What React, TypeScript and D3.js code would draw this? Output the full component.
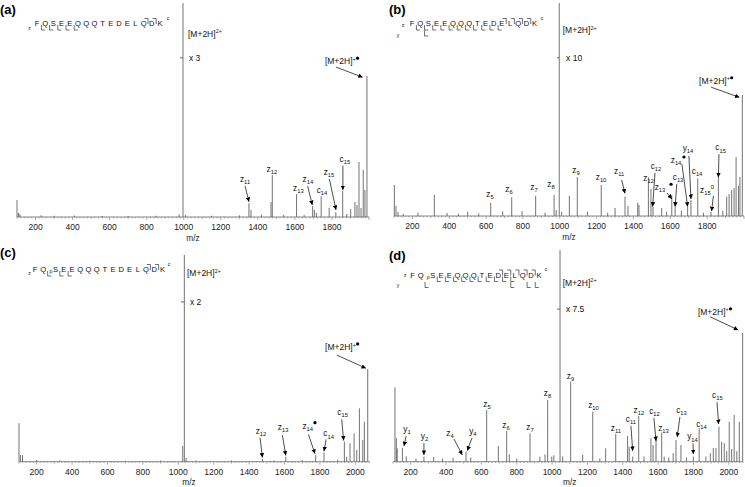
import React from 'react';
import * as d3 from 'd3';

type Peak = [number, number];
type Ann = { t: string; n: string; sup?: string; dot?: [number, number]; at: [number, number]; arrow?: [number, number, number, number] };
type Prec = { m2: [number, number]; mag: string; magAt: [number, number]; tick: [number, number, number]; rad: [number, number]; radArrow: [number, number, number, number] };

// ---------- data ----------
const residues = ['F', 'Q', 'S', 'E', 'E', 'Q', 'Q', 'Q', 'T', 'E', 'D', 'E', 'L', 'Q', 'D', 'K'];

const ticksAB = [200, 400, 600, 800, 1000, 1200, 1400, 1600, 1800];
const ticksCD = [200, 400, 600, 800, 1000, 1200, 1400, 1600, 1800, 2000];

const peaksA: Peak[] = [
  [100, 7.9], [108, 1.9], [116, 1.4], [230, 0.8], [300, 0.6], [410, 0.7], [560, 0.5], [700, 0.5], [850, 0.6], [975, 1.2],
  [996, 100], [1010, 1.0], [1150, 0.6], [1300, 0.8], [1352, 6.5], [1363, 3.3], [1420, 1.0], [1471, 7.0], [1478, 19.6],
  [1540, 1.0], [1609, 10.7], [1650, 1.0], [1696, 5.1], [1705, 3.3], [1716, 1.9], [1742, 9.8], [1785, 4.3], [1821, 2.3],
  [1858, 12.3], [1880, 1.5], [1901, 3.7], [1924, 7.0], [1935, 5.6], [1946, 25.7], [1957, 4.2], [1969, 22.0], [1978, 12.6],
  [1989, 65.9],
];
const labelsA: Ann[] = [
  { t: 'z', n: '11', at: [1331, 16.4], arrow: [1331, 14.5, 1352, 7.1] },
  { t: 'z', n: '12', at: [1476, 21.0] },
  { t: 'z', n: '13', at: [1619, 12.1] },
  { t: 'z', n: '14', at: [1670, 16.4], arrow: [1669, 14.4, 1694, 5.6] },
  { t: 'c', n: '14', at: [1746, 11.2] },
  { t: 'z', n: '15', at: [1784, 19.6], arrow: [1786, 17.8, 1822, 3.3] },
  { t: 'c', n: '15', at: [1870, 25.7], arrow: [1859, 24.0, 1859, 12.6] },
];
const precA: Prec = { m2: [1023, 84.3], mag: 'x 3', magAt: [1028, 72.9], tick: [980, 996, 74.4], rad: [1762, 71.3], radArrow: [1821, 70.1, 1966, 65.3] };

const peaksB: Peak[] = [
  [102, 14.6], [111, 4.7], [122, 1.9], [150, 1.0], [230, 1.5], [319, 9.9], [388, 1.4], [450, 1.0], [500, 2.0], [560, 1.2],
  [625, 6.2], [690, 2.2], [739, 8.8], [795, 2.3], [869, 9.5], [920, 1.5], [969, 9.9], [980, 2.8], [997, 100], [1010, 2.0],
  [1052, 9.5], [1095, 18.3], [1150, 2.0], [1225, 14.6], [1260, 1.5], [1300, 3.8], [1354, 9.1], [1370, 4.7], [1423, 6.2],
  [1430, 5.2], [1481, 18.2], [1495, 12.7], [1506, 4.2], [1553, 3.8], [1580, 2.0], [1608, 9.9], [1626, 4.2], [1660, 2.5],
  [1694, 4.2], [1712, 7.5], [1749, 17.7], [1780, 1.5], [1821, 1.9], [1861, 19.2], [1885, 2.5], [1906, 9.1], [1919, 10.3],
  [1933, 12.2], [1946, 13.1], [1957, 27.7], [1970, 14.1], [1978, 18.3], [1991, 56.8],
];
const labelsB: Ann[] = [
  { t: 'z', n: '5', at: [621, 8.9] },
  { t: 'z', n: '6', at: [724, 11.3] },
  { t: 'z', n: '7', at: [860, 12.2] },
  { t: 'z', n: '8', at: [952, 13.6] },
  { t: 'z', n: '9', at: [1088, 20.2] },
  { t: 'z', n: '10', at: [1224, 16.9] },
  { t: 'z', n: '11', at: [1322, 19.7], arrow: [1336, 16.9, 1354, 10.6] },
  { t: 'z', n: '12', at: [1482, 16.4] },
  { t: 'c', n: '12', at: [1522, 22.1], arrow: [1517, 20.3, 1504, 4.4] },
  { t: 'z', n: '13', dot: [1604, 14.9], at: [1544, 12.2], arrow: [1582, 10.8, 1609, 8.0] },
  { t: 'c', n: '13', at: [1642, 16.9], arrow: [1635, 15.0, 1626, 4.4] },
  { t: 'z', n: '14', dot: [1674, 27.7], at: [1631, 24.9], arrow: [1663, 24.4, 1694, 4.4] },
  { t: 'y', n: '14', at: [1696, 30.5], arrow: [1701, 28.2, 1712, 8.0] },
  { t: 'c', n: '14', at: [1745, 19.7] },
  { t: 'z', n: '15', sup: '0', at: [1799, 10.8], arrow: [1834, 9.4, 1824, 2.3] },
  { t: 'c', n: '15', at: [1873, 30.8], arrow: [1864, 29.0, 1861, 18.2] },
];
const precB: Prec = { m2: [1016, 85.9], mag: 'x 10', magAt: [1034, 72.8], tick: [985, 997, 74.3], rad: [1756, 62.0], radArrow: [1821, 60.5, 1975, 55.7] };

const peaksC: Peak[] = [
  [100, 18.6], [108, 3.2], [120, 3.2], [200, 0.8], [330, 0.6], [500, 0.5], [700, 0.5], [900, 0.6], [1025, 7.6], [1034, 100],
  [1044, 1.8], [1100, 0.6], [1300, 0.6], [1475, 1.3], [1540, 0.6], [1607, 2.4], [1700, 0.8], [1776, 3.2], [1823, 4.5],
  [1900, 1.0], [1938, 9.7], [1951, 2.4], [1970, 8.9], [1993, 13.7], [2008, 5.7], [2023, 25.8], [2042, 10.5], [2051, 19.4],
  [2070, 44.8],
];
const labelsC: Ann[] = [
  { t: 'z', n: '12', at: [1467, 13.4], arrow: [1462, 11.5, 1475, 2.0] },
  { t: 'z', n: '13', at: [1592, 15.3], arrow: [1588, 12.9, 1607, 3.0] },
  { t: 'z', n: '14', dot: [1772, 18.9], at: [1731, 15.8], arrow: [1735, 13.2, 1772, 3.8] },
  { t: 'c', n: '14', at: [1849, 12.2], arrow: [1835, 10.8, 1823, 5.0] },
  { t: 'c', n: '15', at: [1928, 22.5], arrow: [1923, 20.5, 1934, 10.2] },
];
const precC: Prec = { m2: [1049, 89.6], mag: 'x 2', magAt: [1066, 75.6], tick: [1015, 1034, 77.3], rad: [1829, 54.0], radArrow: [1895, 51.6, 2060, 45.2] };

const peaksD: Peak[] = [
  [111, 35.1], [119, 11.1], [124, 6.3], [153, 6.6], [175, 2.5], [230, 1.5], [275, 2.4], [330, 2.2], [380, 1.5], [440, 1.8],
  [513, 4.7], [540, 2.0], [630, 24.4], [696, 7.4], [743, 14.5], [758, 3.5], [800, 1.5], [875, 13.4], [931, 2.4], [960, 3.5],
  [975, 29.1], [998, 2.4], [1010, 3.0], [1045, 100], [1060, 2.5], [1105, 37.8], [1173, 3.2], [1230, 23.6], [1270, 1.5],
  [1303, 6.3], [1360, 13.1], [1427, 12.1], [1436, 7.1], [1456, 2.4], [1490, 21.6], [1520, 2.5], [1559, 11.1], [1571, 7.9],
  [1588, 10.3], [1620, 13.7], [1634, 2.4], [1660, 2.0], [1685, 4.0], [1701, 10.3], [1729, 7.9], [1760, 2.0], [1799, 2.4],
  [1832, 15.8], [1870, 2.5], [1895, 4.0], [1912, 6.5], [1927, 6.5], [1944, 16.5], [1959, 9.4], [1974, 8.8], [1988, 5.0],
  [2002, 18.9], [2016, 6.0], [2030, 22.1], [2045, 5.0], [2059, 18.9], [2078, 60.7],
];
const labelsD: Ann[] = [
  { t: 'y', n: '1', at: [179, 14.0], arrow: [174, 12.1, 162, 7.4] },
  { t: 'y', n: '2', at: [278, 10.7], arrow: [275, 8.8, 275, 3.2] },
  { t: 'z', n: '4', at: [422, 12.1], arrow: [445, 10.7, 492, 3.2] },
  { t: 'y', n: '4', at: [552, 13.1], arrow: [547, 11.2, 520, 5.2] },
  { t: 'z', n: '5', at: [632, 25.8] },
  { t: 'z', n: '6', at: [739, 15.9] },
  { t: 'z', n: '7', at: [875, 15.0] },
  { t: 'z', n: '8', at: [974, 31.0] },
  { t: 'z', n: '9', at: [1104, 39.1] },
  { t: 'z', n: '10', at: [1234, 25.4] },
  { t: 'z', n: '11', at: [1361, 14.5] },
  { t: 'c', n: '11', at: [1446, 18.8], arrow: [1446, 16.9, 1456, 5.1] },
  { t: 'z', n: '12', at: [1491, 23.0] },
  { t: 'c', n: '12', at: [1579, 22.5], arrow: [1576, 20.6, 1588, 9.8] },
  { t: 'z', n: '13', at: [1630, 14.5] },
  { t: 'c', n: '13', at: [1732, 23.0], arrow: [1723, 21.1, 1708, 11.7] },
  { t: 'y', n: '14', at: [1794, 10.5], arrow: [1797, 8.6, 1799, 3.6] },
  { t: 'c', n: '14', at: [1845, 16.6] },
  { t: 'c', n: '15', at: [1935, 30.1], arrow: [1933, 28.2, 1942, 17.8] },
];
const precD: Prec = { m2: [1060, 83.0], mag: 'x 7.5', magAt: [1078, 70.5], tick: [1028, 1045, 72.1], rad: [1825, 69.3], radArrow: [1893, 68.5, 2053, 62.2] };

// cleavage sites (index of residue after which the bond is cleaved)
const zSitesA = [0, 1, 2, 3, 4];
const cSitesA = [13, 14];
const zSitesB = [0, 1, 2, 3, 4, 5, 6, 7, 8, 9, 10];
const ySitesB = [1];
const cSitesB = [11, 12, 13, 14];
const zSitesC = [1, 2, 3];
const cSitesC = [13, 14];
const zSitesD = [2, 3, 4, 5, 6, 7, 8, 9, 10, 11];
const ySitesD = [1, 11, 13, 14];
const cSitesD = [10, 11, 12, 13, 14];

// ---------- drawing ----------
const FONT = "'Liberation Sans', Arial, Helvetica, sans-serif";
const PEAK = '#5a5a5a';

type PepCfg = {
  x0: number; y0: number; s: number; phos?: number;
  z: number[]; c: number[]; y: number[];
  tags: { t: string; x: number; y: number }[];
};

function Peptide({ cfg }: { cfg: PepCfg }) {
  const ph = cfg.phos;
  const xs = residues.map((_, i) => cfg.x0 + i * cfg.s + (ph !== undefined && i >= ph ? 4 : 0));
  const bd = (i: number) => (xs[i] + xs[i + 1] - (ph !== undefined && i + 1 === ph ? 4 : 0)) / 2 + 0.3;
  const y0 = cfg.y0;
  return (
    <g fontFamily={FONT}>
      {residues.map((r, i) => (
        <text key={i} x={xs[i]} y={y0} fontSize={7.6} textAnchor="middle" fill="#111">{r}</text>
      ))}
      {ph !== undefined && (
        <text x={xs[ph] - 4.6} y={y0 + 1} fontSize={5.2} textAnchor="middle" fill="#111">p</text>
      )}
      {cfg.z.map((i) => (
        <path key={'z' + i} d={`M${bd(i)},${y0 - 1}V${y0 + 4}H${bd(i) + 3.6}`} fill="none" stroke="#222" strokeWidth={0.65} />
      ))}
      {cfg.y.map((i) => (
        <path key={'y' + i} d={`M${bd(i)},${y0 + 4.5}V${y0 + 10}H${bd(i) + 3.6}`} fill="none" stroke="#222" strokeWidth={0.65} />
      ))}
      {cfg.c.map((i) => (
        <path key={'c' + i} d={`M${bd(i) - 3.6},${y0 - 7.5}H${bd(i)}V${y0 - 2}`} fill="none" stroke="#222" strokeWidth={0.65} />
      ))}
      {cfg.tags.map((t, k) => (
        <text key={'t' + k} x={t.x} y={t.y} fontSize={5.2} textAnchor="middle" fill="#111">{t.t}</text>
      ))}
    </g>
  );
}

type PanelCfg = {
  letter: string; letterAt: [number, number];
  domain: [number, number]; xr: [number, number]; base: number; top: number;
  ticks: number[]; mzLabel: number;
  peaks: Peak[]; labels: Ann[]; prec: Prec; pep: PepCfg;
};

function Panel({ p }: { p: PanelCfg }) {
  const x = d3.scaleLinear().domain(p.domain).range(p.xr);
  const y = d3.scaleLinear().domain([0, 100]).range([p.base, p.top]);
  const minor = d3.range(p.domain[0], p.domain[1] + 0.1, 20);
  const pr = p.prec;
  return (
    <g fontFamily={FONT}>
      <text x={p.letterAt[0]} y={p.letterAt[1]} fontSize={13} fontWeight="bold" fill="#000">{p.letter}</text>
      <Peptide cfg={p.pep} />
      {/* peaks */}
      {p.peaks.map(([m, v], k) => (
        <line key={k} x1={x(m)} x2={x(m)} y1={y(0)} y2={y(v)} stroke={PEAK} strokeWidth={0.85} />
      ))}
      {/* axis */}
      <line x1={p.xr[0]} x2={p.xr[1]} y1={p.base} y2={p.base} stroke="#666" strokeWidth={0.8} />
      {minor.map((m, k) => (
        <line key={'m' + k} x1={x(m)} x2={x(m)} y1={p.base} y2={p.base + (m % 200 === 0 ? 3 : m % 100 === 0 ? 2 : 1.3)} stroke="#777" strokeWidth={0.6} />
      ))}
      {p.ticks.map((t) => (
        <text key={'t' + t} x={x(t)} y={p.base + 13} fontSize={8.5} textAnchor="middle" fill="#222">{t}</text>
      ))}
      <text x={x(p.mzLabel)} y={p.base + 23.5} fontSize={8.3} textAnchor="middle" fill="#222">m/z</text>
      {/* precursor annotations */}
      <text x={x(pr.m2[0])} y={y(pr.m2[1])} fontSize={8.5} fill="#111">[M+2H]<tspan dy={-3.5} fontSize={5.5}>2+</tspan></text>
      <line x1={x(pr.tick[0])} x2={x(pr.tick[1])} y1={y(pr.tick[2])} y2={y(pr.tick[2])} stroke="#444" strokeWidth={0.8} />
      <text x={x(pr.magAt[0])} y={y(pr.magAt[1])} fontSize={8.5} fill="#111">{pr.mag}</text>
      <text x={x(pr.rad[0])} y={y(pr.rad[1])} fontSize={8.5} fill="#111">[M+2H]<tspan dy={-3.5} fontSize={5.5}>+</tspan></text>
      <circle cx={x(pr.rad[0]) + 32.6} cy={y(pr.rad[1]) - 6.2} r={1.6} fill="#000" />
      <line x1={x(pr.radArrow[0])} y1={y(pr.radArrow[1])} x2={x(pr.radArrow[2])} y2={y(pr.radArrow[3])} stroke="#111" strokeWidth={0.75} markerEnd="url(#ah)" />
      {/* fragment labels */}
      {p.labels.map((a, k) => (
        <g key={'a' + k}>
          <text x={x(a.at[0])} y={y(a.at[1])} fontSize={8.3} textAnchor="middle" fill="#111">
            {a.t}<tspan dy={2.2} fontSize={5.8}>{a.n}</tspan>
            {a.sup && <tspan dy={-6} fontSize={5.8}>{a.sup}</tspan>}
          </text>
          {a.dot && <circle cx={x(a.dot[0])} cy={y(a.dot[1])} r={1.6} fill="#000" />}
          {a.arrow && (
            <line x1={x(a.arrow[0])} y1={y(a.arrow[1])} x2={x(a.arrow[2])} y2={y(a.arrow[3])} stroke="#111" strokeWidth={0.75} markerEnd="url(#ah)" />
          )}
        </g>
      ))}
    </g>
  );
}

const panels: PanelCfg[] = [
  {
    letter: '(a)', letterAt: [0, 14], domain: [100, 2000], xr: [17, 369], base: 217, top: 3, ticks: ticksAB, mzLabel: 1050,
    peaks: peaksA, labels: labelsA, prec: precA,
    pep: { x0: 37, y0: 26, s: 8.2, z: zSitesA, c: cSitesA, y: [], tags: [{ t: 'z', x: 29.5, y: 30 }, { t: 'c', x: 168, y: 20 }] },
  },
  {
    letter: '(b)', letterAt: [389, 14], domain: [100, 2000], xr: [394, 744], base: 216, top: 3, ticks: ticksAB, mzLabel: 1050,
    peaks: peaksB, labels: labelsB, prec: precB,
    pep: { x0: 412, y0: 26, s: 8.17, z: zSitesB, c: cSitesB, y: ySitesB, tags: [{ t: 'y', x: 398, y: 37 }, { t: 'z', x: 403, y: 27 }, { t: 'c', x: 542, y: 20 }] },
  },
  {
    letter: '(c)', letterAt: [0, 257], domain: [100, 2080], xr: [19, 369.5], base: 461.7, top: 255, ticks: ticksCD, mzLabel: 1060,
    peaks: peaksC, labels: labelsC, prec: precC,
    pep: { x0: 35, y0: 272, s: 8.23, phos: 2, z: zSitesC, c: cSitesC, y: [], tags: [{ t: 'z', x: 29.5, y: 275 }, { t: 'c', x: 169, y: 266 }] },
  },
  {
    letter: '(d)', letterAt: [389, 260], domain: [100, 2080], xr: [393, 743], base: 461.7, top: 250, ticks: ticksCD, mzLabel: 1100,
    peaks: peaksD, labels: labelsD, prec: precD,
    pep: { x0: 412.5, y0: 277.5, s: 8.17, phos: 2, z: zSitesD, c: cSitesD, y: ySitesD, tags: [{ t: 'y', x: 398, y: 287 }, { t: 'z', x: 405, y: 277 }, { t: 'c', x: 546, y: 271 }] },
  },
];

export default function App() {
  return (
    <svg width={745} height={487} viewBox="0 0 745 487" style={{ position: 'absolute', left: 0, top: 0, background: '#fff' }}>
      <defs>
        <marker id="ah" viewBox="0 0 10 10" refX={10} refY={5} markerWidth={4.5} markerHeight={4.5} markerUnits="userSpaceOnUse" orient="auto">
          <path d="M0,0L10,5L0,10z" fill="#000" />
        </marker>
      </defs>
      {panels.map((p) => (
        <Panel key={p.letter} p={p} />
      ))}
    </svg>
  );
}
